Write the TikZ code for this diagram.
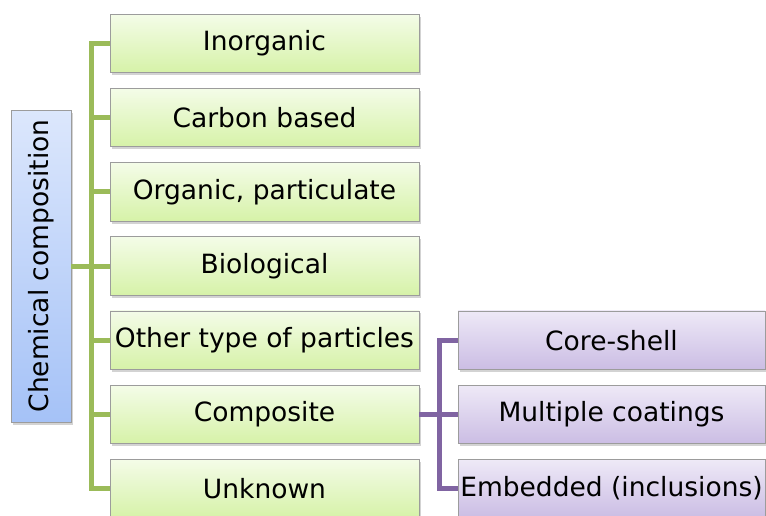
\documentclass[tikz,border=0pt]{standalone}
\usepackage{fontspec}
\setmainfont{DejaVu Sans}
\usetikzlibrary{shadows}

\definecolor{leafgreen}{HTML}{9BBB59}
\definecolor{leafpurple}{HTML}{8064A2}
\definecolor{boxedge}{HTML}{9C9C9C}

\begin{document}
\begin{tikzpicture}[x=1pt,y=-1pt,
  box/.style={draw=boxedge,line width=0.8pt,minimum width=309pt,minimum height=58.5pt,
    inner sep=2pt,font=\fontsize{26.5}{30}\selectfont,
    drop shadow={opacity=0.35,shadow xshift=2pt,shadow yshift=-2.5pt}},
  greenbox/.style={box,top color={rgb,255:red,244;green,252;blue,232},
    bottom color={rgb,255:red,214;green,242;blue,168}},
  purplebox/.style={box,minimum width=307pt,top color={rgb,255:red,238;green,233;blue,247},
    bottom color={rgb,255:red,203;green,189;blue,228}},
  rootbox/.style={box,rotate=90,minimum width=312pt,minimum height=60pt,
    top color={rgb,255:red,220;green,231;blue,252},bottom color={rgb,255:red,165;green,194;blue,247}},
  gline/.style={leafgreen,line width=5pt},
  pline/.style={leafpurple,line width=5pt}]
\useasboundingbox (0,0) rectangle (766,515);

\node[rootbox] (chem) at (41,266) {Chemical composition};

\node[greenbox] (inorg)   at (264.5,43.4)  {Inorganic};
\node[greenbox] (carbon)  at (264.5,117.6) {Carbon based};
\node[greenbox] (organic) at (264.5,191.8) {Organic, particulate};
\node[greenbox] (bio)     at (264.5,266)   {Biological};
\node[greenbox] (other)   at (264.5,340.2) {Other type of particles};
\node[greenbox] (comp)    at (264.5,414.4) {Composite};
\node[greenbox] (unknown) at (264.5,488.6) {Unknown};

\node[purplebox] (core)  at (611.5,340.2) {Core-shell};
\node[purplebox] (multi) at (611.5,414.4) {Multiple coatings};
\node[purplebox] (embed) at (611.5,488.6) {Embedded (inclusions)};

\coordinate (gtrunk) at (91,0);
\coordinate (ptrunk) at (439,0);

% green tree
\draw[gline] (inorg.west) -| (gtrunk |- unknown.west) -- (unknown.west);
\draw[gline] (chem.south) -- (chem.south -| gtrunk);
\foreach \c in {carbon,organic,bio,other,comp}
  \draw[gline] (gtrunk |- \c.west) -- (\c.west);

% purple tree
\draw[pline] (core.west) -| (ptrunk |- embed.west) -- (embed.west);
\draw[pline] (comp.east) -- (multi.west);

\end{tikzpicture}
\end{document}
